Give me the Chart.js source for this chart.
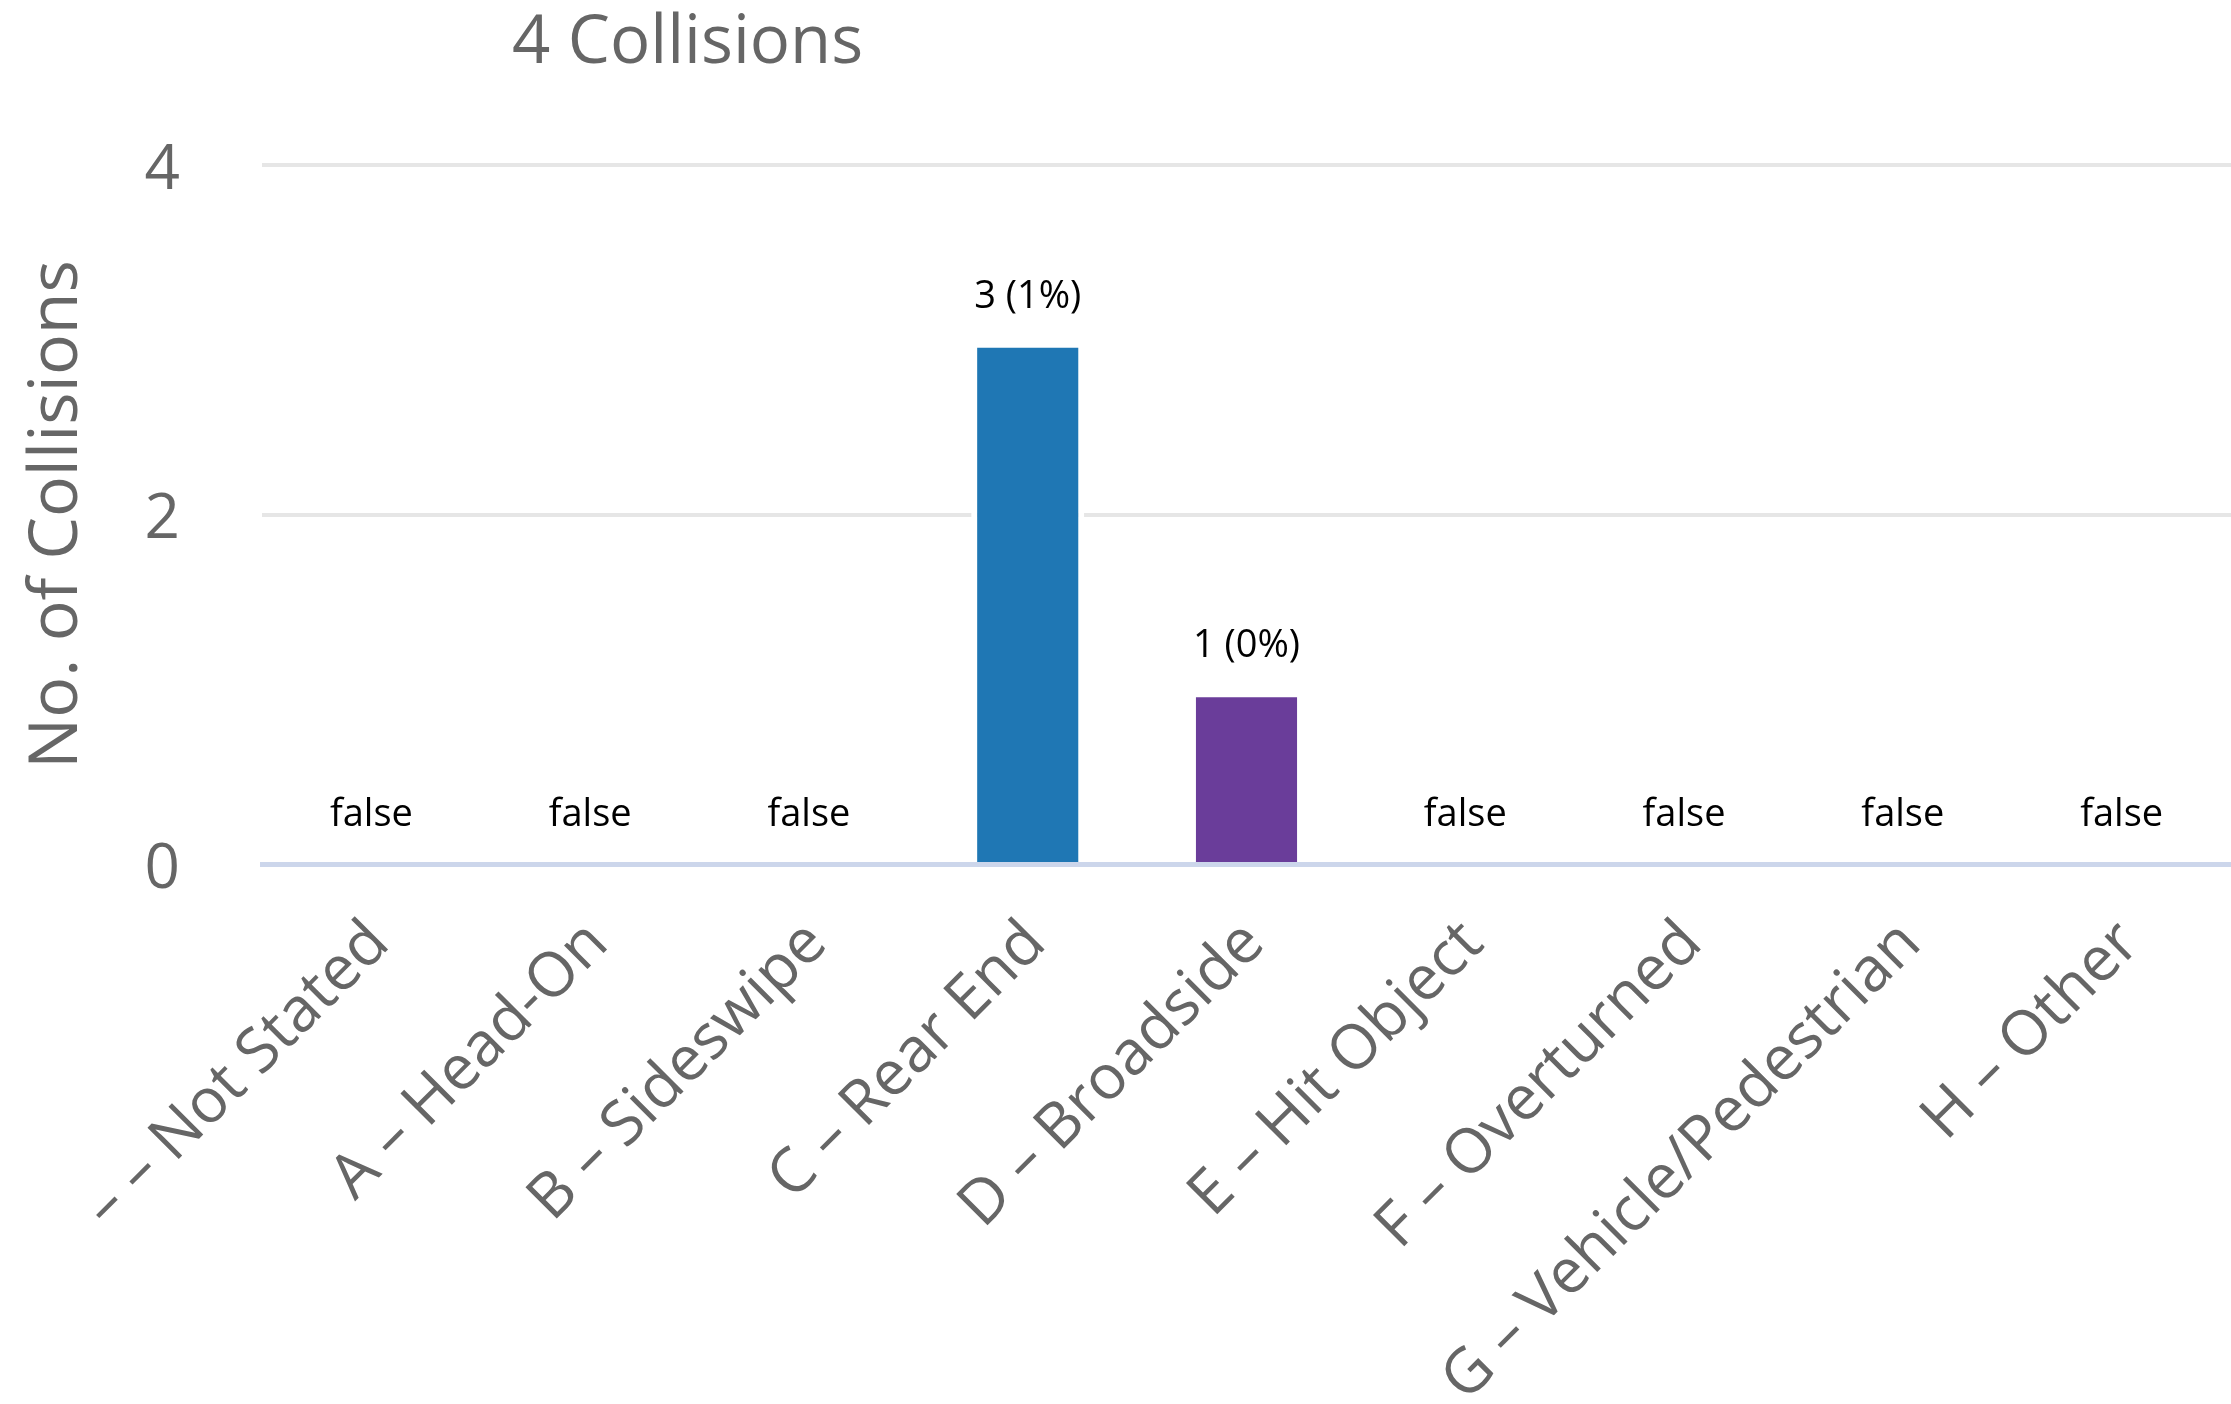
<!DOCTYPE html>
<html>
<head>
<meta charset="utf-8">
<title>Collisions by type</title>
<script src="https://cdn.jsdelivr.net/npm/chart.js@4.4.1/dist/chart.umd.min.js"></script>
<style>
html, body { margin: 0; padding: 0; background: #fff; }
#collisionChart { display: block; }
</style>
</head>
<body>
<canvas id="collisionChart" width="2231" height="1404"></canvas>
<script>
// collision type breakdown
const chartTitle = '4 Collisions';
const yAxisTitle = 'No. of Collisions';
const categories = ['– – Not Stated', 'A – Head-On', 'B – Sideswipe', 'C – Rear End', 'D – Broadside', 'E – Hit Object', 'F – Overturned', 'G – Vehicle/Pedestrian', 'H – Other'];
const counts = [0, 0, 0, 3, 1, 0, 0, 0, 0];
const barLabels = ['false', 'false', 'false', '3 (1%)', '1 (0%)', 'false', 'false', 'false', 'false'];
const barColors = ['#a6cee3', '#b2df8a', '#33a02c', '#1f77b4', '#6a3d9a', '#fb9a99', '#e31a1c', '#fdbf6f', '#ff7f00'];
const yMax = 4;
const yStep = 2;

const FONT = "'Open Sans', 'Noto Sans', sans-serif";
const GREY = '#666666';

// title sits left of centre in the reference, so draw it ourselves
const titlePlugin = {
    id: 'leftTitle',
    afterDraw(chart) {
        const ctx = chart.ctx;
        ctx.save();
        ctx.font = '67px ' + FONT;
        ctx.fillStyle = GREY;
        ctx.textAlign = 'left';
        ctx.textBaseline = 'alphabetic';
        ctx.fillText(chartTitle, 512, 63);
        ctx.restore();
    }
};

// value labels above each bar ("false" for the empty ones)
const barLabelPlugin = {
    id: 'barLabels',
    afterDatasetsDraw(chart) {
        const ctx = chart.ctx;
        const meta = chart.getDatasetMeta(0);
        ctx.save();
        ctx.font = '38px ' + FONT;
        ctx.fillStyle = '#000';
        ctx.textAlign = 'center';
        ctx.textBaseline = 'alphabetic';
        meta.data.forEach((bar, i) => {
            const gap = counts[i] > 0 ? 32 : 38;
            ctx.fillText(barLabels[i], bar.x, bar.y - gap);
        });
        ctx.restore();
    }
};

new Chart(document.getElementById('collisionChart'), {
    type: 'bar',
    data: {
        labels: categories,
        datasets: [{
            label: yAxisTitle,
            data: counts,
            backgroundColor: barColors,
            borderColor: '#ffffff',
            borderWidth: { top: 8, left: 6, right: 6, bottom: 0 },
            borderSkipped: 'start',
            categoryPercentage: 1,
            barPercentage: 0.517
        }]
    },
    options: {
        responsive: false,
        animation: false,
        layout: { padding: { top: 165, left: 0, right: 0, bottom: 0 } },
        plugins: {
            legend: { display: false },
            tooltip: { enabled: false },
            title: { display: false }
        },
        scales: {
            x: {
                grid: { display: false, drawTicks: false },
                border: { display: true, color: '#ccd6eb', width: 5, z: 1 },
                ticks: {
                    color: GREY,
                    font: { family: FONT, size: 62 },
                    minRotation: 45, maxRotation: 45,
                    autoSkip: false,
                    padding: 43,
                    labelOffset: 8
                },
                afterFit: scale => { scale.height = 540; }
            },
            y: {
                min: 0, max: yMax,
                ticks: {
                    stepSize: yStep,
                    color: GREY,
                    font: { family: FONT, size: 62 },
                    padding: 82,
                    labelOffset: 6
                },
                grid: {
                    drawTicks: false,
                    lineWidth: 4,
                    color: c => c.tick && c.tick.value === 0 ? '#ccd6eb' : '#e6e6e6'
                },
                border: { display: false },
                title: {
                    display: true,
                    text: yAxisTitle,
                    color: GREY,
                    font: { family: FONT, size: 68 },
                    padding: { top: 17, bottom: 0 }
                },
                afterFit: scale => { scale.width = 262; }
            }
        }
    },
    plugins: [titlePlugin, barLabelPlugin]
});
</script>
</body>
</html>
